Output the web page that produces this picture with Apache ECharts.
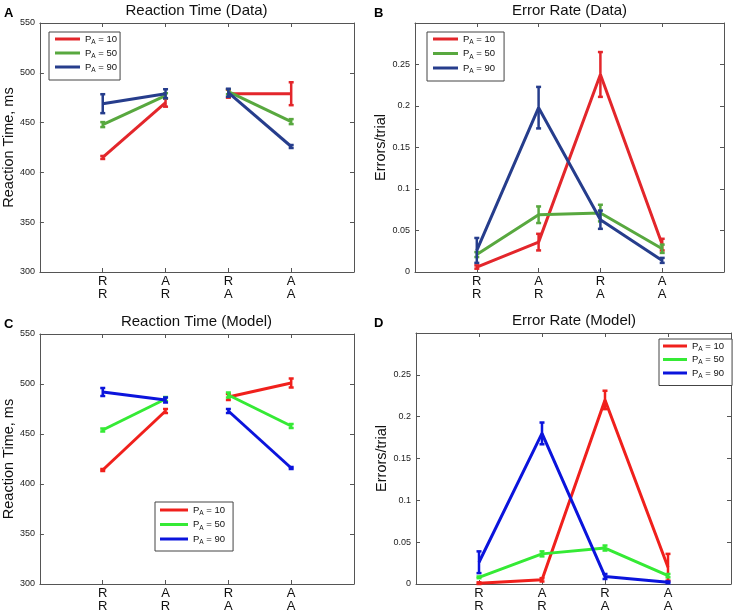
<!DOCTYPE html>
<html><head><meta charset="utf-8">
<script src="https://cdn.jsdelivr.net/npm/echarts@6/dist/echarts.min.js"></script>
<style>html,body{margin:0;padding:0;background:#fff}#c{width:734px;height:613px}</style>
</head><body><div id="c"></div>
<script>
// ---------- data ----------
const categories = ['R\nR', 'A\nR', 'R\nA', 'A\nA'];
const groupLabels = ['10', '50', '90'];

// Reaction time (Data), ms
const rtData10 = [415, 470, 479, 479];
const rtData10Err = [1.5, 4, 4, 11.5];
const rtData50 = [448, 477, 481, 451];
const rtData50Err = [2.5, 2.5, 2.5, 2.5];
const rtData90 = [469, 479, 480, 426];
const rtData90Err = [9.5, 4.5, 4, 1.5];

// Error rate (Data), errors/trial
const erData10 = [0.006, 0.036, 0.238, 0.033];
const erData10Err = [0.002, 0.010, 0.027, 0.007];
const erData50 = [0.021, 0.069, 0.071, 0.028];
const erData50Err = [0.003, 0.010, 0.010, 0.005];
const erData90 = [0.026, 0.198, 0.063, 0.014];
const erData90Err = [0.015, 0.025, 0.011, 0.003];

// Reaction time (Model), ms
const rtModel10 = [414, 473, 487, 501];
const rtModel10Err = [1, 2, 3, 4.5];
const rtModel50 = [454, 485, 489, 458];
const rtModel50Err = [1.5, 2, 2.5, 2];
const rtModel90 = [492, 484, 473, 416];
const rtModel90Err = [4, 2.5, 2, 1];

// Error rate (Model), errors/trial
const erModel10 = [0.001, 0.005, 0.220, 0.020];
const erModel10Err = [0.001, 0.002, 0.011, 0.016];
const erModel50 = [0.008, 0.036, 0.043, 0.010];
const erModel50Err = [0.001, 0.003, 0.003, 0.002];
const erModel90 = [0.026, 0.180, 0.009, 0.002];
const erModel90Err = [0.013, 0.013, 0.003, 0.001];

// ---------- styling ----------
const FONT = 'Liberation Sans, Arial, Helvetica, sans-serif';
const dataColors = ['#e3262b', '#58a83f', '#263d8c'];
const modelColors = ['#f0201c', '#35ea35', '#0b14dc'];
const frameColor = '#555';

const panels = [
  { letter: 'A', title: 'Reaction Time (Data)', yName: 'Reaction Time, ms',
    grid: { left: 39, top: 23, width: 315, height: 249 },
    ymin: 300, ymax: 550, yint: 50, split: true, prefix: 'd',
    vals: [rtData10, rtData50, rtData90], errs: [rtData10Err, rtData50Err, rtData90Err],
    colors: dataColors, nameGap: 23,
    legend: { left: 49, top: 32, padding: [2, 3, 6, 6], lh: 14, gap: 2, iw: 25 } },
  { letter: 'B', title: 'Error Rate (Data)', yName: 'Errors/trial',
    grid: { left: 415, top: 23, width: 309, height: 249 },
    ymin: 0, ymax: 0.3, yint: 0.05, split: false, prefix: 'd',
    vals: [erData10, erData50, erData90], errs: [erData10Err, erData50Err, erData90Err],
    colors: dataColors, nameGap: 25,
    legend: { left: 427, top: 32, padding: [2, 9, 6, 6], lh: 14, gap: 2.5, iw: 25 } },
  { letter: 'C', title: 'Reaction Time (Model)', yName: 'Reaction Time, ms',
    grid: { left: 39, top: 334, width: 315, height: 250 },
    ymin: 300, ymax: 550, yint: 50, split: true, prefix: 'm',
    vals: [rtModel10, rtModel50, rtModel90], errs: [rtModel10Err, rtModel50Err, rtModel90Err],
    colors: modelColors, nameGap: 23,
    legend: { left: 155, top: 502, padding: [3, 8, 5, 5], lh: 14, gap: 2.5, iw: 28 } },
  { letter: 'D', title: 'Error Rate (Model)', yName: 'Errors/trial',
    grid: { left: 416, top: 333, width: 316, height: 251 },
    ymin: 0, ymax: 0.3, yint: 0.05, split: false, prefix: 'm',
    vals: [erModel10, erModel50, erModel90], errs: [erModel10Err, erModel50Err, erModel90Err],
    colors: modelColors, nameGap: 25,
    legend: { left: 659, top: 339, padding: [2, 8, 6, 4], lh: 13, gap: 2, iw: 24 } }
];

const grids = [], xAxes = [], yAxes = [], series = [], legends = [], titles = [];

function errRender(color) {
  return function (params, api) {
    const x = api.value(0), y = api.value(1), e = api.value(2);
    const top = api.coord([x, y + e]);
    const bot = api.coord([x, y - e]);
    const w = 2.5;
    const st = { stroke: color, lineWidth: 2.5 };
    return { type: 'group', children: [
      { type: 'line', shape: { x1: top[0], y1: top[1], x2: bot[0], y2: bot[1] }, style: st },
      { type: 'line', shape: { x1: top[0] - w, y1: top[1], x2: top[0] + w, y2: top[1] }, style: st },
      { type: 'line', shape: { x1: bot[0] - w, y1: bot[1], x2: bot[0] + w, y2: bot[1] }, style: st }
    ] };
  };
}

panels.forEach((p, gi) => {
  grids.push(Object.assign({ containLabel: false }, p.grid));
  const xBase = { gridIndex: gi, type: 'value', min: 0, max: 5, interval: 1,
    splitLine: { show: false },
    axisLine: { show: true, onZero: false, lineStyle: { color: frameColor, width: 1 } },
    axisTick: { show: true, inside: true, length: 4, lineStyle: { color: frameColor } } };
  xAxes.push(Object.assign({}, xBase, { position: 'bottom',
    axisLabel: { show: true, margin: 3, fontSize: 13, lineHeight: 13, color: '#111', fontFamily: FONT,
      formatter: v => (v >= 1 && v <= 4) ? categories[v - 1] : '' } }));
  xAxes.push(Object.assign({}, xBase, { position: 'top', axisLabel: { show: false } }));
  const yBase = { gridIndex: gi, type: 'value', min: p.ymin, max: p.ymax, interval: p.yint,
    splitLine: { show: false },
    axisLine: { show: true, onZero: false, lineStyle: { color: frameColor, width: 1 } },
    axisTick: { show: true, inside: true, length: 4, lineStyle: { color: frameColor } } };
  yAxes.push(Object.assign({}, yBase, { position: 'left',
    name: p.yName, nameLocation: 'middle', nameGap: p.nameGap,
    nameTextStyle: { fontSize: 14.5, color: '#111', fontFamily: FONT },
    axisLabel: { show: true, margin: 5, fontSize: 9, color: '#222', fontFamily: FONT,
      showMaxLabel: p.ymax === 550 } }));
  yAxes.push(Object.assign({}, yBase, { position: 'right', axisLabel: { show: false } }));

  const xi = gi * 2, yi = gi * 2;
  const names = [];
  p.vals.forEach((vals, k) => {
    const name = p.prefix + groupLabels[k];
    names.push(name);
    const color = p.colors[k];
    const pts = vals.map((v, i) => [i + 1, v]);
    const segs = p.split ? [pts.slice(0, 2), pts.slice(2, 4)] : [pts];
    segs.forEach(seg => {
      series.push({ type: 'line', name, xAxisIndex: xi, yAxisIndex: yi, data: seg,
        symbol: 'none', lineStyle: { color, width: 3 }, itemStyle: { color },
        z: 2 + k, animation: false, silent: true });
    });
    series.push({ type: 'custom', name, xAxisIndex: xi, yAxisIndex: yi,
      data: vals.map((v, i) => [i + 1, v, p.errs[k][i]]),
      encode: { x: 0, y: 1 }, renderItem: errRender(color), itemStyle: { color },
      z: 2 + k, animation: false, silent: true });
  });

  const L = p.legend;
  legends.push({ left: L.left, top: L.top, orient: 'vertical', data: names,
    icon: 'rect', itemWidth: L.iw, itemHeight: 3, itemGap: L.gap, itemTextGap: 4,
    padding: L.padding, borderColor: '#444', borderWidth: 1, backgroundColor: '#fff',
    selectedMode: false,
    formatter: n => '{p|P}{s|A}{p| = ' + n.slice(1) + '}',
    textStyle: { fontFamily: FONT, color: '#111',
      rich: { p: { fontSize: 9.5, lineHeight: L.lh, fontFamily: FONT, color: '#111' },
              s: { fontSize: 6.5, lineHeight: 7, verticalAlign: 'bottom', fontFamily: FONT, color: '#111' } } } });

  titles.push({ text: p.title, left: p.grid.left + p.grid.width / 2, top: p.grid.top - 20,
    textAlign: 'center', padding: 0,
    textStyle: { fontSize: 15, fontWeight: 'normal', color: '#111', fontFamily: FONT } });
  titles.push({ text: p.letter, left: gi % 2 === 0 ? 4 : 374, top: p.grid.top - 16, padding: 0,
    textStyle: { fontSize: 13, fontWeight: 'bold', color: '#000', fontFamily: FONT } });
});

const chart = echarts.init(document.getElementById('c'), null, { renderer: 'canvas' });
chart.setOption({
  animation: false,
  backgroundColor: '#fff',
  title: titles,
  grid: grids,
  xAxis: xAxes,
  yAxis: yAxes,
  legend: legends,
  series
});
</script>
</body></html>
